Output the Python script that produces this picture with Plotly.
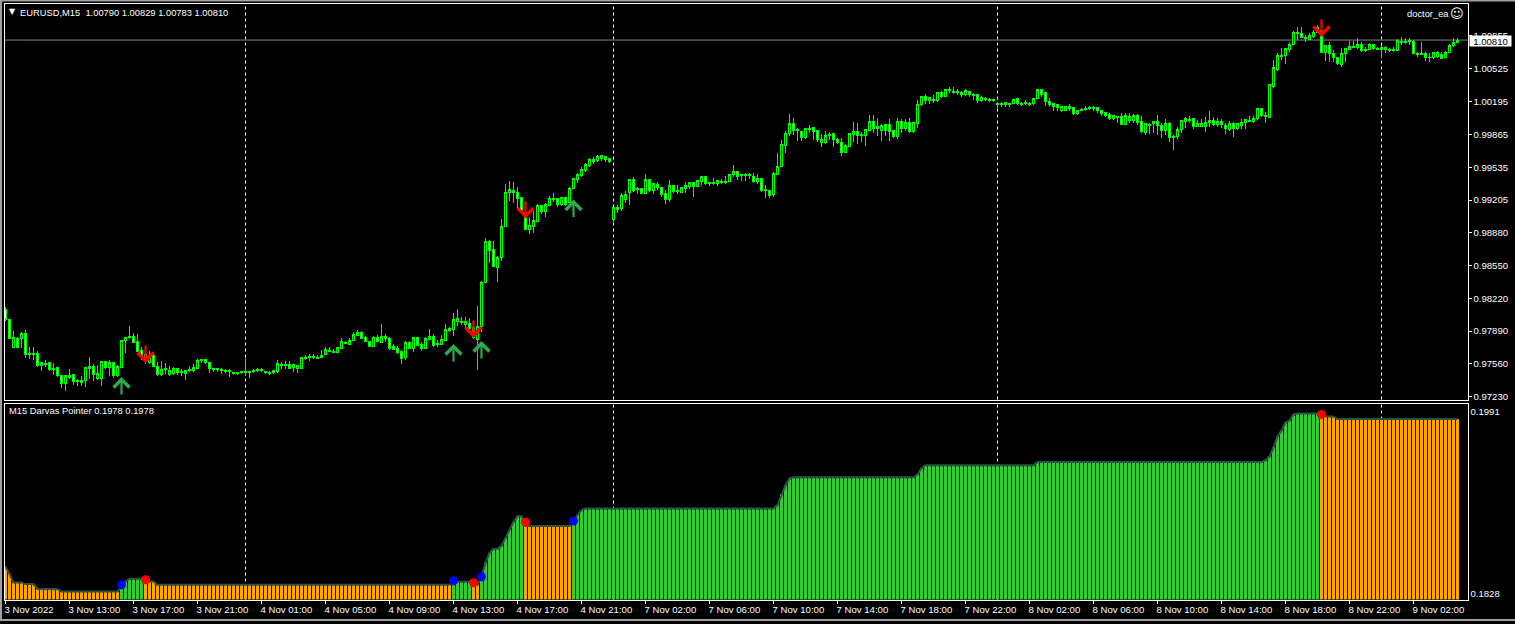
import numpy as np
import plotly.graph_objects as go

# EURUSD M15 prices, in hundredths of a cent (pips)
open_pips = [
9812,9802,9774,9783,9783,9788,9768,9767,9768,9755,9756,9758,9752,9753,9745,9737,9743,9746,9740,9738,
9740,9752,9754,9742,9742,9759,9753,9758,9745,9753,9781,9784,9785,9780,9771,9767,9758,9766,9754,9746,
9751,9746,9747,9752,9749,9747,9750,9750,9752,9760,9761,9758,9752,9751,9751,9750,9749,9748,9747,9748,
9748,9749,9749,9750,9751,9749,9748,9748,9749,9755,9756,9756,9753,9752,9752,9763,9764,9765,9764,9764,
9767,9771,9770,9769,9773,9778,9777,9781,9786,9789,9784,9780,9775,9784,9779,9785,9783,9775,9773,9770,
9764,9779,9773,9784,9777,9773,9782,9785,9778,9777,9781,9791,9792,9800,9800,9797,9798,9794,9782,9795,
9839,9880,9872,9854,9864,9895,9929,9929,9929,9924,9909,9892,9895,9900,9916,9910,9916,9923,9923,9917,
9924,9919,9933,9942,9946,9951,9956,9960,9961,9963,9965,9963,9902,9912,9913,9922,9929,9942,9933,9933,
9928,9942,9931,9937,9934,9928,9922,9936,9931,9929,9933,9935,9939,9935,9940,9945,9939,9938,9938,9940,
9939,9940,9947,9950,9947,9946,9947,9945,9940,9943,9932,9931,9927,9947,9955,9976,9988,9998,9992,9990,
9984,9992,9994,9991,9979,9979,9986,9988,9982,9979,9969,9975,9987,9990,9986,9986,9991,10000,9993,9991,
9997,9997,9991,9985,10000,9993,9999,9990,9998,10017,10025,10021,10022,10021,10029,10025,10031,10030,10030,10027,
10027,10030,10027,10027,10021,10023,10022,10021,10017,10017,10017,10018,10018,10023,10017,10018,10018,10018,10023,10032,
10029,10020,10018,10017,10011,10011,10013,10014,10008,10011,10012,10014,10014,10014,10011,10009,10007,10003,10005,10005,
9997,10001,10001,10006,10000,9989,9996,9998,10000,9996,9991,9998,9985,9985,9992,10000,10002,10003,9995,9995,
9995,9999,10001,9997,10000,9996,9992,9998,9993,9996,9999,10001,10000,10003,10013,10006,10004,10035,10052,10066,
10067,10073,10078,10089,10089,10085,10083,10086,10090,10092,10070,10077,10069,10065,10057,10069,10073,10076,10075,10078,
10073,10073,10078,10074,10073,10075,10073,10072,10072,10080,10081,10081,10081,10069,10068,10069,10065,10065,10066,10068,
10065,10070,10077,10080]
close_pips = [
9802,9783,9784,9774,9788,9767,9767,9768,9755,9758,9757,9751,9751,9745,9737,9745,9745,9739,9739,9740,
9753,9754,9746,9747,9759,9753,9758,9745,9754,9781,9784,9785,9779,9770,9766,9760,9766,9754,9746,9751,
9752,9750,9752,9748,9748,9750,9751,9753,9760,9761,9758,9752,9751,9752,9750,9749,9750,9747,9748,9749,
9749,9748,9750,9751,9750,9748,9747,9750,9757,9756,9755,9752,9756,9755,9764,9764,9765,9764,9763,9766,
9772,9770,9769,9774,9780,9779,9781,9787,9789,9783,9780,9775,9784,9780,9785,9783,9773,9772,9769,9763,
9779,9773,9784,9776,9773,9783,9785,9776,9777,9782,9792,9793,9802,9803,9799,9800,9793,9784,9795,9839,
9880,9871,9855,9864,9895,9929,9932,9931,9923,9909,9892,9896,9901,9916,9910,9917,9923,9922,9917,9924,
9917,9933,9943,9947,9952,9957,9962,9962,9965,9966,9962,9960,9914,9914,9926,9927,9942,9931,9932,9928,
9942,9931,9938,9934,9927,9922,9936,9930,9930,9934,9936,9939,9935,9941,9945,9938,9938,9939,9941,9939,
9940,9947,9950,9945,9946,9947,9946,9940,9943,9931,9931,9926,9948,9955,9977,9988,9998,9991,9991,9984,
9993,9993,9990,9982,9982,9986,9987,9982,9979,9969,9976,9988,9990,9986,9987,9992,10000,9993,9995,9996,
9991,9990,9985,10000,9993,9999,9990,9999,10017,10025,10021,10024,10021,10029,10025,10032,10032,10029,10029,10029,
10031,10027,10026,10021,10024,10022,10021,10022,10018,10018,10019,10017,10022,10018,10018,10019,10017,10023,10032,10027,
10020,10017,10015,10014,10015,10015,10015,10008,10011,10012,10013,10013,10013,10011,10008,10006,10003,10006,10004,9997,
10006,10005,10006,9999,9990,9998,9997,10000,9996,9991,9998,9984,9984,9992,10001,10003,10001,9995,9998,9998,
9999,10001,9997,10000,9997,9993,9998,9993,9998,9999,10002,10000,10003,10013,10006,10005,10037,10054,10067,10067,
10074,10078,10090,10090,10085,10084,10087,10090,10095,10070,10077,10069,10065,10058,10069,10074,10076,10075,10078,10072,
10072,10078,10074,10073,10075,10073,10072,10073,10082,10081,10080,10082,10069,10068,10069,10064,10064,10070,10070,10063,
10070,10077,10080,10082]
high_pips = [
9814,9802,9790,9784,9789,9791,9774,9774,9770,9758,9761,9759,9758,9753,9745,9745,9752,9746,9742,9745,
9753,9764,9757,9756,9759,9760,9761,9758,9756,9781,9784,9795,9788,9787,9774,9772,9770,9769,9759,9760,
9758,9755,9754,9752,9752,9750,9755,9757,9762,9762,9762,9758,9753,9753,9753,9752,9752,9749,9749,9750,
9764,9750,9752,9753,9753,9750,9750,9751,9761,9759,9760,9760,9756,9756,9764,9766,9767,9767,9766,9771,
9774,9774,9772,9774,9783,9780,9783,9789,9791,9790,9785,9780,9785,9786,9797,9787,9784,9777,9775,9771,
9780,9780,9784,9784,9779,9784,9792,9787,9781,9786,9797,9794,9808,9812,9804,9804,9803,9799,9815,9840,
9883,9881,9880,9865,9902,9938,9941,9940,9935,9924,9912,9904,9910,9918,9917,9919,9926,9929,9924,9925,
9925,9935,9944,9949,9955,9959,9964,9965,9967,9967,9966,9964,9914,9917,9929,9931,9942,9945,9935,9933,
9948,9943,9939,9940,9935,9932,9942,9937,9937,9935,9940,9939,9939,9941,9946,9946,9940,9944,9942,9943,
9946,9947,9957,9951,9947,9949,9949,9949,9948,9943,9937,9932,9950,9969,9982,9991,10008,10004,9994,9991,
9994,9997,9995,9992,9988,9991,9990,9988,9984,9984,9978,9989,10000,9999,9990,9992,10007,10007,10004,9998,
9998,10003,9992,10004,10003,10003,10004,10000,10022,10026,10028,10024,10027,10029,10031,10033,10035,10035,10033,10031,
10033,10031,10029,10027,10026,10025,10024,10023,10020,10020,10020,10018,10023,10023,10020,10022,10020,10024,10032,10032,
10029,10024,10019,10017,10016,10016,10018,10015,10011,10014,10016,10016,10016,10015,10012,10009,10009,10006,10006,10009,
10009,10009,10008,10008,10006,9998,9999,10000,10007,9999,10003,10000,9987,9995,10002,10005,10006,10004,10002,10003,
10005,10011,10005,10004,10003,9999,10001,10000,9999,10003,10003,10006,10006,10014,10014,10010,10037,10062,10069,10074,
10074,10080,10091,10095,10095,10087,10089,10092,10097,10094,10077,10080,10072,10065,10074,10074,10081,10081,10084,10080,
10075,10079,10078,10075,10076,10076,10074,10075,10083,10085,10084,10084,10082,10070,10080,10070,10069,10070,10071,10070,
10071,10078,10084,10084]
low_pips = [
9800,9782,9773,9773,9773,9763,9762,9761,9754,9750,9754,9750,9746,9744,9733,9730,9742,9736,9735,9735,
9734,9742,9740,9741,9735,9752,9745,9743,9744,9753,9768,9782,9779,9769,9761,9757,9757,9754,9745,9745,
9747,9745,9746,9746,9745,9741,9749,9749,9752,9758,9757,9748,9749,9749,9747,9748,9744,9746,9746,9747,
9746,9743,9748,9749,9749,9747,9746,9747,9748,9752,9752,9752,9749,9748,9752,9761,9760,9762,9762,9763,
9767,9769,9768,9769,9772,9777,9776,9780,9785,9782,9779,9775,9774,9779,9779,9779,9771,9771,9767,9757,
9761,9772,9769,9775,9770,9772,9782,9774,9774,9777,9780,9789,9785,9795,9796,9793,9789,9782,9751,9789,
9839,9858,9855,9839,9860,9895,9921,9919,9913,9908,9891,9887,9888,9900,9907,9904,9916,9920,9915,9916,
9916,9919,9933,9939,9945,9950,9955,9958,9960,9961,9960,9959,9899,9908,9910,9919,9917,9930,9928,9928,
9928,9930,9928,9932,9925,9918,9920,9929,9928,9929,9929,9933,9925,9935,9937,9937,9936,9937,9936,9938,
9938,9940,9945,9942,9941,9941,9943,9939,9938,9930,9924,9924,9925,9947,9955,9969,9986,9987,9981,9981,
9983,9989,9982,9980,9975,9978,9982,9975,9978,9966,9969,9975,9980,9978,9980,9976,9991,9989,9986,9981,
9986,9981,9984,9983,9989,9991,9989,9989,9994,10016,10018,10018,10019,10020,10024,10025,10029,10028,10027,10025,
10026,10025,10022,10019,10020,10021,10020,10020,10014,10015,10015,10015,10018,10017,10016,10017,10016,10017,10023,10025,
10016,10015,10011,10011,10010,10011,10011,10007,10007,10011,10011,10012,10011,10009,10006,10005,10002,10002,9999,9997,
9997,9999,9999,9997,9989,9987,9988,9989,9987,9984,9987,9980,9972,9983,9989,9994,9999,9993,9995,9995,
9990,9995,9996,9995,9994,9988,9991,9985,9992,9993,9993,10000,9999,10002,10005,9999,10004,10034,10051,10062,
10058,10070,10077,10082,10084,10080,10082,10084,10089,10069,10061,10060,10060,10057,10055,10060,10072,10074,10073,10070,
10070,10072,10072,10072,10064,10069,10070,10070,10071,10077,10078,10077,10068,10065,10068,10061,10060,10063,10064,10063,
10064,10069,10075,10079]

# Darvas Pointer staircase: flat levels and how many bars each level lasts
darvas_levels = [.18520,.18458,.18381,.18366,.18322,.18300,.18345,.18390,.18414,.18390,.18360,.18387,.18360,
                 .18431,.18556,.18645,.18681,.18708,.18779,.18850,.18921,.18975,.18886,.18921,.18984,.19028,
                 .19042,.19073,.19171,.19251,.19313,.19322,.19349,.19402,.19429,.19458,.19474,.19509,.19589,
                 .19687,.19741,.19812,.19830,.19883,.19892,.19870,.19865,.19843]
darvas_bars = [1,1,3,3,6,15,1,1,4,3,74,5,2,
               1,1,1,2,1,1,1,1,2,12,1,1,1,
               48,1,1,1,1,31,1,1,28,57,1,1,1,
               1,1,1,1,1,6,1,3,31]
trend_names = ["down","up","down","up","down","up","down","up","down"]
trend_bars = [29,6,77,5,2,11,12,187,35]

arrow_up_bars = [29,112,119,142]
arrow_up_prices = [0.9743,0.9776,0.9779,0.9921]
arrow_down_bars = [35,117,130,329]
arrow_down_prices = [0.9757,0.9782,0.9902,1.0084]
blue_dot_bars = [29,112,119,142]
blue_dot_values = [.18360,.18396,.18431,.18930]
red_dot_bars = [35,117,130,329]
red_dot_values = [.18405,.18378,.18921,.19883]

separator_bars = [60,152,248,344]
time_tick_bars = [0,16,32,48,64,80,96,112,128,144,160,176,192,208,224,240,256,272,288,304,320,336,352]
time_labels = ["3 Nov 2022","3 Nov 13:00","3 Nov 17:00","3 Nov 21:00","4 Nov 01:00","4 Nov 05:00",
               "4 Nov 09:00","4 Nov 13:00","4 Nov 17:00","4 Nov 21:00","7 Nov 02:00","7 Nov 06:00",
               "7 Nov 10:00","7 Nov 14:00","7 Nov 18:00","7 Nov 22:00","8 Nov 02:00","8 Nov 06:00",
               "8 Nov 10:00","8 Nov 14:00","8 Nov 18:00","8 Nov 22:00","9 Nov 02:00"]
price_ticks = [1.00855,1.00525,1.00195,0.99865,0.99535,0.99205,0.98880,0.98550,0.98220,0.97890,0.97560,0.97230]
darvas_ticks = [0.1991,0.1828]
last_price = 1.00810

for s in (open_pips, close_pips, high_pips, low_pips):
    assert len(s) == 364

bars = list(range(364))
to_price = lambda s: [(p - 1) / 10000 for p in s]
darvas = np.repeat(darvas_levels, darvas_bars)
trend = np.repeat(trend_names, trend_bars)

W, H = 1515, 624
FONT = "Liberation Sans"
FS = 9.6
FS_TITLE = 9.35
WHITE = "#FFFFFF"
xdom = [4.5 / W, 1467.5 / W]
ydom1 = [1 - 401.5 / H, 1 - 4.5 / H]
ydom2 = [1 - 602.5 / H, 1 - 405.5 / H]
xrange = [-0.25, 365.5]

fig = go.Figure()
fig.add_trace(go.Candlestick(
    x=bars, open=to_price(open_pips), high=to_price(high_pips), low=to_price(low_pips), close=to_price(close_pips),
    xaxis="x", yaxis="y", whiskerwidth=0,
    increasing=dict(line=dict(color="#00FF00", width=1), fillcolor="#000000"),
    decreasing=dict(line=dict(color="#00FF00", width=1), fillcolor="#FFFFFF"),
    hoverinfo="skip", showlegend=False))
fig.add_trace(go.Bar(
    x=bars, y=darvas, marker=dict(color=["#32CD32" if t == "up" else "#FFA500" for t in trend], line_width=0),
    width=0.75, xaxis="x2", yaxis="y2", hoverinfo="skip", showlegend=False))
fig.add_trace(go.Scatter(
    x=bars, y=darvas, mode="lines", line=dict(color="#2F4F4F", width=2),
    xaxis="x2", yaxis="y2", hoverinfo="skip", showlegend=False))
fig.add_trace(go.Scatter(
    x=blue_dot_bars, y=blue_dot_values, mode="markers", marker=dict(color="#0000FF", size=9, line_width=0),
    xaxis="x2", yaxis="y2", hoverinfo="skip", showlegend=False))
fig.add_trace(go.Scatter(
    x=red_dot_bars, y=red_dot_values, mode="markers", marker=dict(color="#FF0000", size=9, line_width=0),
    xaxis="x2", yaxis="y2", hoverinfo="skip", showlegend=False))

shapes = []
for b in separator_bars:
    for dom in (ydom1, ydom2):
        shapes.append(dict(type="line", layer="below", xref="x", x0=b, x1=b, yref="paper", y0=dom[0], y1=dom[1],
                           line=dict(color=WHITE, width=1, dash="3px,3px")))
shapes.append(dict(type="line", layer="below", xref="paper", x0=xdom[0], x1=xdom[1], yref="y",
                   y0=last_price, y1=last_price, line=dict(color="#778899", width=1)))
# grey window frame
for x0, x1, y0, y1 in [(0, 2 / W, 0, 1), (0, 1, 1 - 1.5 / H, 1), (0, 1, 0, 2 / H)]:
    shapes.append(dict(type="rect", xref="paper", yref="paper", x0=x0, x1=x1, y0=y0, y1=y1,
                       fillcolor="#A0A0A0", line_width=0))

annotations = []
def label(text, px, py, size=FS_TITLE, color=WHITE, family=FONT, anchor="left"):
    annotations.append(dict(text=text, x=px / W, y=1 - py / H, xref="paper", yref="paper", xanchor=anchor,
                            yanchor="middle", showarrow=False, font=dict(family=family, size=size, color=color)))

label("▼", 7, 12, size=8, family="DejaVu Sans")
label("EURUSD,M15  1.00790 1.00829 1.00783 1.00810", 18, 13)
label("doctor_ea", 1451, 14, anchor="right")
label("☺", 1448, 14, size=13, family="DejaVu Sans")
label("M15 Darvas Pointer 0.1978 0.1978", 7, 413)
annotations.append(dict(text="1.00810", x=1469 / W, y=last_price, xref="paper", yref="y", xanchor="left",
                        yanchor="middle", yshift=-1, showarrow=False, bgcolor=WHITE, borderpad=0,
                        font=dict(family=FONT, size=FS, color="#000000"), width=41, height=10))
for b, p in zip(arrow_up_bars, arrow_up_prices):
    annotations.append(dict(x=b, y=p, xref="x", yref="y", ax=0, ay=19, text="", showarrow=True, arrowhead=4,
                            arrowsize=1.4, arrowwidth=2.2, arrowcolor="#2DAA4C", standoff=0))
for b, p in zip(arrow_down_bars, arrow_down_prices):
    annotations.append(dict(x=b, y=p, xref="x", yref="y", ax=0, ay=-19, text="", showarrow=True, arrowhead=4,
                            arrowsize=1.4, arrowwidth=2.2, arrowcolor="#FF0000", standoff=0))

axis_common = dict(showgrid=False, zeroline=False, showline=True, linecolor=WHITE, linewidth=1, mirror=True,
                   ticks="outside", ticklen=3, tickcolor=WHITE, tickwidth=1,
                   tickfont=dict(family=FONT, size=FS, color=WHITE))

fig.update_layout(
    width=W, height=H, autosize=False, margin=dict(l=0, r=0, t=0, b=0),
    paper_bgcolor="#000000", plot_bgcolor="#000000", showlegend=False, boxgap=0.5, bargap=0.25,
    hovermode=False, shapes=shapes, annotations=annotations,
    xaxis=dict(axis_common, domain=xdom, range=xrange, anchor="y", showticklabels=False, ticks="",
               rangeslider=dict(visible=False)),
    xaxis2=dict(axis_common, domain=xdom, range=xrange, anchor="y2", tickmode="array", tickvals=time_tick_bars,
                ticktext=time_labels, ticklabelposition="outside right", tickangle=0,
                ticklabelshift=-2, ticklabelstandoff=1),
    yaxis=dict(axis_common, domain=ydom1, range=[0.97203, 1.01167], anchor="x", side="right", tickmode="array",
               tickvals=price_ticks, ticktext=["%.5f" % v for v in price_ticks]),
    yaxis2=dict(axis_common, domain=ydom2, range=[0.18227, 0.19981], anchor="x2", side="right", tickmode="array",
                tickvals=darvas_ticks, ticktext=["%.4f" % v for v in darvas_ticks], ticks=""),
)

fig.write_html("out.html", config=dict(displayModeBar=False),
               post_script="document.body.style.margin='0';document.documentElement.style.overflow='hidden';"
                           "document.querySelectorAll('.boxlayer path').forEach(function(p){p.style.shapeRendering='crispEdges';});")
